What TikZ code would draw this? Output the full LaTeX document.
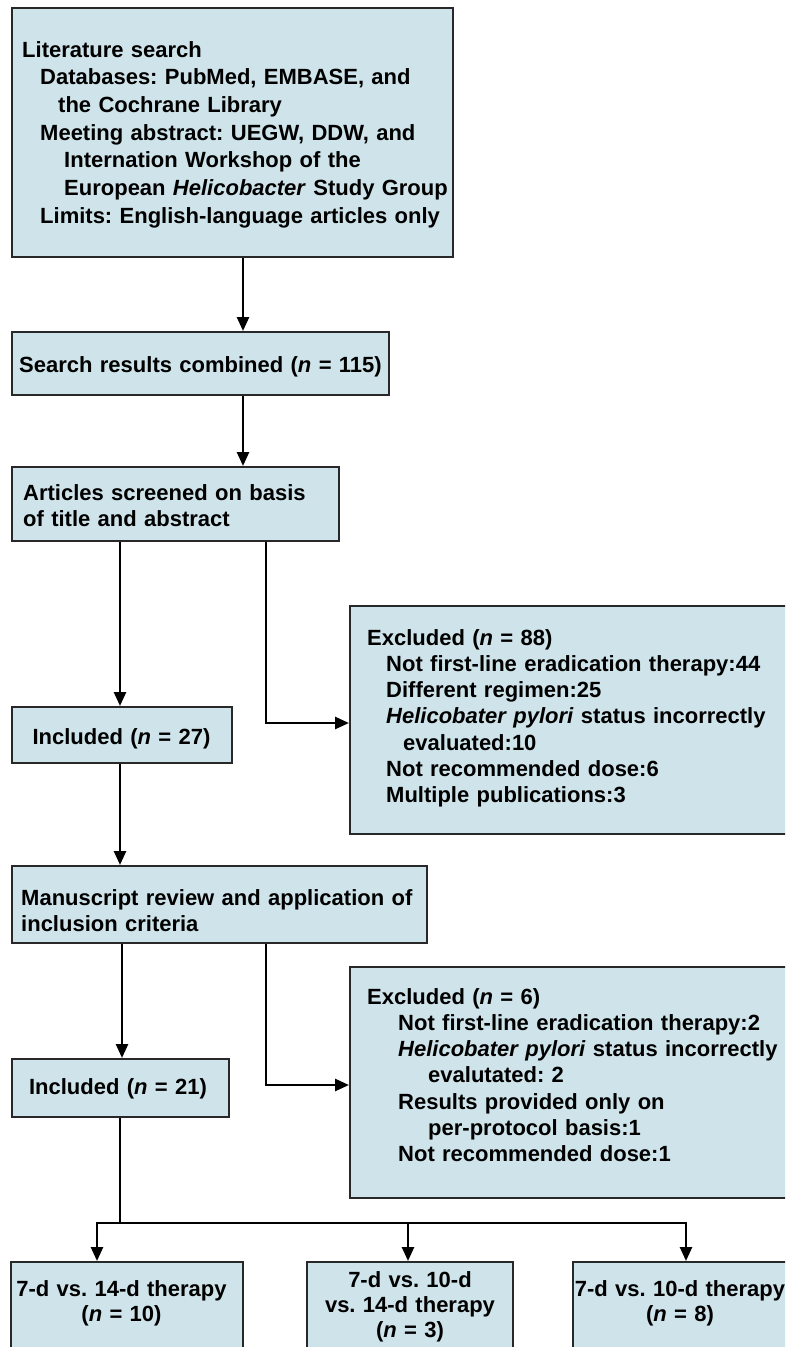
\documentclass[tikz,border=0pt]{standalone}
\usepackage{fontspec}
\setmainfont{Liberation Sans}
\usetikzlibrary{arrows.meta}
\definecolor{boxfill}{RGB}{206,228,234}
\definecolor{boxline}{RGB}{40,40,40}
\frenchspacing
\begin{document}
\begin{tikzpicture}[x=1pt,y=-1pt,
  box/.style={draw=boxline,line width=2pt,fill=boxfill,rectangle,inner sep=0pt,anchor=north west},
  ln/.style={line width=2.6pt,draw=black},
  arr/.style={ln,-{Triangle[length=14pt,width=12pt]}},
  lefttext/.style={anchor=base west,inner sep=0pt,align=left,text width=#1,font=\bfseries\fontsize{22}{26.3}\selectfont},
  ctext/.style={anchor=base,inner sep=0pt,align=center,text width=#1,font=\bfseries\fontsize{22}{25}\selectfont},
]
\useasboundingbox (0,0) rectangle (785,1347);
\clip (0,0) rectangle (785,1347);

% boxes
\node[box,minimum width=441pt,minimum height=249pt] (lit) at (11,7) {};
\node[box,minimum width=377pt,minimum height=63pt] (search) at (11,331) {};
\node[box,minimum width=327pt,minimum height=74pt] (screen) at (11,466) {};
\node[box,minimum width=220pt,minimum height=56pt] (inc1) at (11,706) {};
\node[box,minimum width=460pt,minimum height=228pt] (exc1) at (349,605) {};
\node[box,minimum width=415pt,minimum height=77pt] (manu) at (11,865) {};
\node[box,minimum width=217pt,minimum height=58pt] (inc2) at (11,1058) {};
\node[box,minimum width=460pt,minimum height=231pt] (exc2) at (349,966) {};
\node[box,minimum width=232pt,minimum height=120pt] (resA) at (10,1261) {};
\node[box,minimum width=206pt,minimum height=120pt] (resB) at (306,1261) {};
\node[box,minimum width=240pt,minimum height=120pt] (resC) at (572,1261) {};

% texts
\node[lefttext=430pt,font=\bfseries\fontsize{22}{27.7}\selectfont] (tlit) at (22,57) {Literature search\\
\hspace*{18pt}Databases: PubMed, EMBASE, and\\
\hspace*{36pt}the Cochrane Library\\
\hspace*{18pt}Meeting abstract: UEGW, DDW, and\\
\hspace*{42pt}Internation Workshop of the\\
\hspace*{42pt}European \textit{Helicobacter} Study Group\\
\hspace*{18pt}Limits: English-language articles only};
\node[ctext=380pt] (tsearch) at (200.5,372) {Search results combined (\textit{n} = 115)};
\node[lefttext=320pt,font=\bfseries\fontsize{22}{26}\selectfont] (tscreen) at (23,500) {Articles screened on basis\\of title and abstract};
\node[ctext=220pt] (tinc1) at (121.5,744) {Included (\textit{n} = 27)};
\node[lefttext=420pt] (texc1) at (367,645) {Excluded (\textit{n} = 88)\\
\hspace*{19pt}Not first-line eradication therapy:44\\
\hspace*{19pt}Different regimen:25\\
\hspace*{19pt}\textit{Helicobater pylori} status incorrectly\\
\hspace*{36pt}evaluated:10\\
\hspace*{19pt}Not recommended dose:6\\
\hspace*{19pt}Multiple publications:3};
\node[lefttext=410pt,font=\bfseries\fontsize{22}{26}\selectfont] (tmanu) at (21,905) {Manuscript review and application of\\inclusion criteria};
\node[ctext=220pt] (tinc2) at (118,1094) {Included (\textit{n} = 21)};
\node[lefttext=420pt] (texc2) at (367,1004) {Excluded (\textit{n} = 6)\\
\hspace*{31pt}Not first-line eradication therapy:2\\
\hspace*{31pt}\textit{Helicobater pylori} status incorrectly\\
\hspace*{61pt}evalutated: 2\\
\hspace*{31pt}Results provided only on\\
\hspace*{61pt}per-protocol basis:1\\
\hspace*{31pt}Not recommended dose:1};
\node[ctext=240pt] (tresA) at (121.5,1296) {7-d vs. 14-d therapy\\(\textit{n} = 10)};
\node[ctext=206pt] (tresB) at (410,1287) {7-d vs. 10-d\\vs. 14-d therapy\\(\textit{n} = 3)};
\node[ctext=240pt] (tresC) at (680,1296) {7-d vs. 10-d therapy\\(\textit{n} = 8)};

% connectors
\coordinate (xa) at (243,0);
\coordinate (xl) at (120,0);
\coordinate (xr) at (266,0);
\coordinate (xm) at (122,0);
\coordinate (k1) at (266,723);
\coordinate (k2) at (266,1085);
\coordinate (hub) at (120,1223);
\coordinate (hl) at (97,1223);
\coordinate (hm) at (408,1223);
\coordinate (hr) at (686,1223);

\draw[arr] (lit.south -| xa) -- (search.north -| xa);
\draw[arr] (search.south -| xa) -- (screen.north -| xa);
\draw[arr] (screen.south -| xl) -- (inc1.north -| xl);
\draw[arr] (screen.south -| xr) -- (k1) -- (exc1.west |- k1);
\draw[arr] (inc1.south -| xl) -- (manu.north -| xl);
\draw[arr] (manu.south -| xm) -- (inc2.north -| xm);
\draw[arr] (manu.south -| xr) -- (k2) -- (exc2.west |- k2);
\draw[ln] (inc2.south -| hub) -- (hub);
\draw[arr] (hr) -- (hl) -- (resA.north -| hl);
\draw[arr] (hl) -- (hr) -- (resC.north -| hr);
\draw[arr] (hm) -- (resB.north -| hm);
\end{tikzpicture}
\end{document}
